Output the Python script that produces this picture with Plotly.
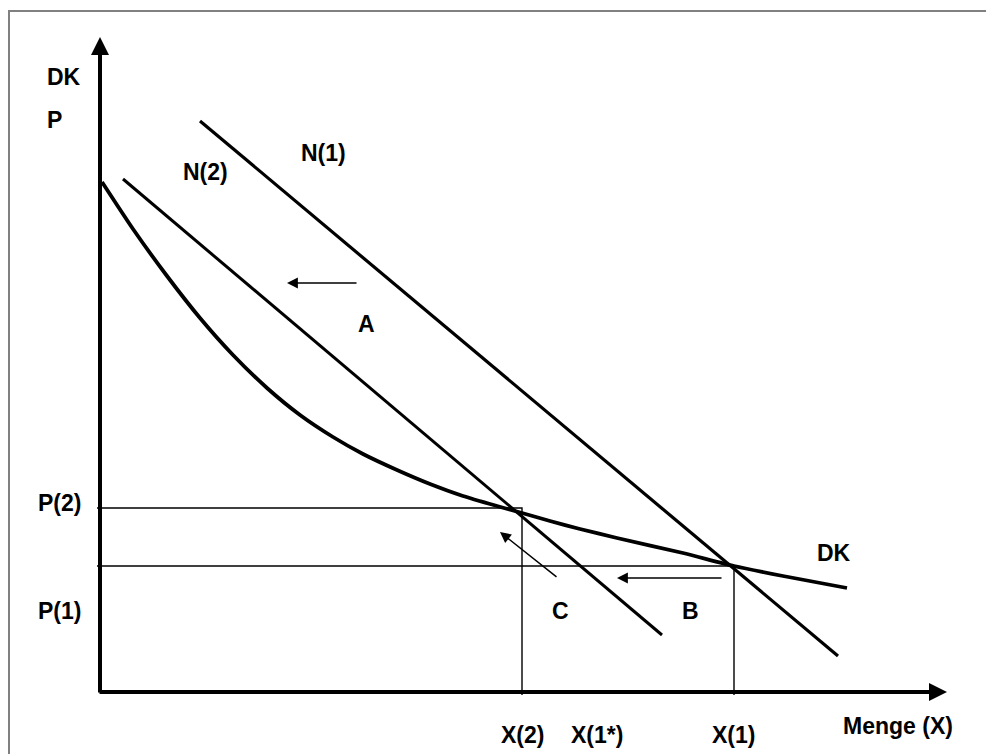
import plotly.graph_objects as go

# ---- data (diagram units: x right from origin, y up from origin) ----
n1_x = [100, 738]
n1_y = [571, 36]
n2_x = [23, 562]
n2_y = [513, 57]
dk_x = [2, 33, 67, 100, 133, 167, 200, 233, 263, 297, 330, 363, 397, 422, 450, 480, 517, 583, 634, 683, 747]
dk_y = [510, 463, 416, 374, 337, 304, 277, 255, 238, 222, 208, 196, 186, 179, 171, 163, 154, 139, 126, 116, 104]

x2_val, p2_val = 422, 184      # X(2), P(2)
x1_val, p1_val = 634, 126      # X(1), P(1)

# arrows: (tail_x, tail_y, tip_x, tip_y)
shift_arrows = [(258, 409, 187, 409), (623, 114, 517, 114), (458, 114, 400, 160)]

labels = ["DK", "P", "N(2)", "N(1)", "A", "C", "B", "DK", "P(2)", "P(1)",
          "X(2)", "X(1*)", "X(1)", "Menge (X)"]
label_x = [-55, -55, 105, 223, 266, 460, 590, 734, -64, -64, 422, 497, 633, 798]
label_y = [615, 572, 520, 539, 368, 81, 81, 139, 189, 81, -43, -43, -43, -34]
label_anchor = ["left", "left", "center", "center", "center", "center", "center", "center",
                "left", "left", "center", "center", "center", "center"]

FONT = "Liberation Sans, Arial, sans-serif"
PAGE_OFFSET = 8  # default body margin of the html page

fig = go.Figure()

# guide lines for P(2)/X(2) and P(1)/X(1)
fig.add_trace(go.Scatter(x=[-3, x2_val, x2_val], y=[p2_val, p2_val, -3], mode="lines",
                         line=dict(color="black", width=1.4), hoverinfo="skip"))
fig.add_trace(go.Scatter(x=[-3, x1_val, x1_val], y=[p1_val, p1_val, -3], mode="lines",
                         line=dict(color="black", width=1.4), hoverinfo="skip"))

# demand curves
fig.add_trace(go.Scatter(x=n1_x, y=n1_y, mode="lines", line=dict(color="black", width=3.2),
                         hoverinfo="skip"))
fig.add_trace(go.Scatter(x=n2_x, y=n2_y, mode="lines", line=dict(color="black", width=3),
                         hoverinfo="skip"))
# DK curve
fig.add_trace(go.Scatter(x=dk_x, y=dk_y, mode="lines",
                         line=dict(color="black", width=3.8, shape="spline", smoothing=0.6),
                         hoverinfo="skip"))

annotations = []
# axes with arrowheads
annotations.append(dict(x=0, y=655, ax=0, ay=-2, xref="x", yref="y", axref="x", ayref="y",
                        showarrow=True, arrowhead=2, arrowwidth=4, arrowsize=0.9,
                        arrowcolor="black", text="", standoff=0))
annotations.append(dict(x=847, y=0, ax=-2, ay=0, xref="x", yref="y", axref="x", ayref="y",
                        showarrow=True, arrowhead=2, arrowwidth=4, arrowsize=0.9,
                        arrowcolor="black", text="", standoff=0))
# shift arrows
for tx, ty, hx, hy in shift_arrows:
    annotations.append(dict(x=hx, y=hy, ax=tx, ay=ty, xref="x", yref="y", axref="x", ayref="y",
                            showarrow=True, arrowhead=2, arrowwidth=1.5, arrowsize=1.45,
                            arrowcolor="black", text="", standoff=0))
# text labels
for t, lx, ly, anc in zip(labels, label_x, label_y, label_anchor):
    annotations.append(dict(x=lx, y=ly, xref="x", yref="y", text="<b>" + t + "</b>",
                            showarrow=False, xanchor=anc, yanchor="middle",
                            font=dict(family=FONT, size=23, color="black")))

W, H = 994, 754
fig.update_layout(
    width=W, height=H,
    margin=dict(l=0, r=0, t=0, b=0),
    paper_bgcolor="white", plot_bgcolor="white",
    showlegend=False,
    xaxis=dict(range=[-100 + PAGE_OFFSET, 894 + PAGE_OFFSET], visible=False, fixedrange=True),
    yaxis=dict(range=[-62 - PAGE_OFFSET, 692 - PAGE_OFFSET], visible=False, fixedrange=True),
    annotations=annotations,
    shapes=[dict(type="rect", xref="paper", yref="paper",
                 x0=(9 - PAGE_OFFSET) / W, x1=1.01, y0=-0.01, y1=1 - (11 - PAGE_OFFSET) / H,
                 line=dict(color="#808080", width=2), fillcolor="rgba(0,0,0,0)", layer="below")],
)

fig.write_html("out.html")
